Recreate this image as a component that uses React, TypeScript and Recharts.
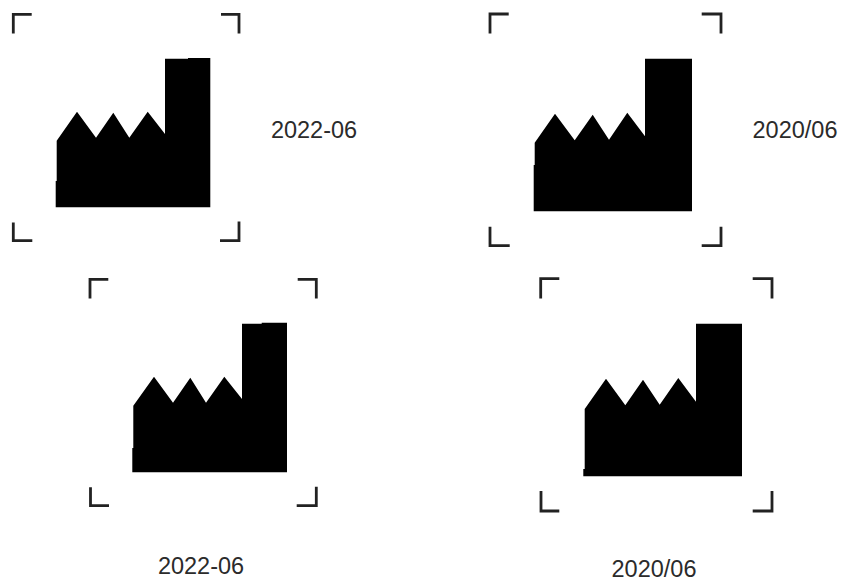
import { ComposedChart, Area, Line, Scatter, LabelList, XAxis, YAxis } from 'recharts';

type Pt = { x: number; y: number };

const CHART_W = 842;
const CHART_H = 581;

// factory outlines (y grows downwards)
const factoryA: Pt[] = [
  { x: 55.7, y: 181 }, { x: 56.7, y: 181 }, { x: 56.7, y: 140.7 }, { x: 77, y: 111.7 }, { x: 96, y: 137.7 },
  { x: 113.3, y: 112.7 }, { x: 129.3, y: 137.7 }, { x: 147.7, y: 111.7 }, { x: 165, y: 134 }, { x: 165, y: 58.7 },
  { x: 188, y: 58.7 }, { x: 188, y: 58 }, { x: 210.3, y: 58 },
];
const factoryB: Pt[] = [
  { x: 533.7, y: 165 }, { x: 534.7, y: 165 }, { x: 534.7, y: 142.7 }, { x: 555, y: 113.7 }, { x: 574.7, y: 140.3 },
  { x: 592.7, y: 114.7 }, { x: 609, y: 139.7 }, { x: 627.3, y: 112.7 }, { x: 645, y: 136.3 }, { x: 645, y: 58.7 },
  { x: 692, y: 58.7 },
];
const factoryC: Pt[] = [
  { x: 132.3, y: 448 }, { x: 133.3, y: 448 }, { x: 133.3, y: 405.7 }, { x: 154, y: 376.7 }, { x: 173, y: 402.7 },
  { x: 190.3, y: 377.7 }, { x: 206, y: 402.7 }, { x: 224.3, y: 376.7 }, { x: 242, y: 399 }, { x: 242, y: 323.7 },
  { x: 261.7, y: 323.7 }, { x: 261.7, y: 322.7 }, { x: 287, y: 322.7 },
];
const factoryD: Pt[] = [
  { x: 583.3, y: 469 }, { x: 584.7, y: 469 }, { x: 584.7, y: 409 }, { x: 606, y: 378.7 }, { x: 625.3, y: 405.3 },
  { x: 643, y: 379.7 }, { x: 659.7, y: 404.7 }, { x: 678.3, y: 378 }, { x: 696, y: 401.7 }, { x: 696, y: 323.7 },
  { x: 742, y: 323.7 },
];
const factories = [
  { name: 'a', points: factoryA, base: 207.3 },
  { name: 'b', points: factoryB, base: 211.3 },
  { name: 'c', points: factoryC, base: 472.3 },
  { name: 'd', points: factoryD, base: 476.3 },
];

// corner brackets
const bracketsA: Pt[][] = [
  [{ x: 13.3, y: 33.5 }, { x: 13.3, y: 14.3 }, { x: 31.7, y: 14.3 }],
  [{ x: 221, y: 14.3 }, { x: 239, y: 14.3 }, { x: 239, y: 33.5 }],
  [{ x: 13.3, y: 222.5 }, { x: 13.3, y: 240.7 }, { x: 32.3, y: 240.7 }],
  [{ x: 220, y: 240.7 }, { x: 239, y: 240.7 }, { x: 239, y: 221.5 }],
];
const bracketsB: Pt[][] = [
  [{ x: 490, y: 33.5 }, { x: 490, y: 14 }, { x: 508.7, y: 14 }],
  [{ x: 701.7, y: 14 }, { x: 721, y: 14 }, { x: 721, y: 33.5 }],
  [{ x: 490, y: 226.7 }, { x: 490, y: 245.7 }, { x: 509.7, y: 245.7 }],
  [{ x: 701.7, y: 245.7 }, { x: 721, y: 245.7 }, { x: 721, y: 226.7 }],
];
const bracketsC: Pt[][] = [
  [{ x: 90, y: 298.5 }, { x: 90, y: 279.3 }, { x: 108.3, y: 279.3 }],
  [{ x: 297.7, y: 279.3 }, { x: 316.3, y: 279.3 }, { x: 316.3, y: 298.5 }],
  [{ x: 90.5, y: 487.3 }, { x: 90.5, y: 505.7 }, { x: 109, y: 505.7 }],
  [{ x: 296.7, y: 505.7 }, { x: 316.3, y: 505.7 }, { x: 316.3, y: 486.7 }],
];
const bracketsD: Pt[][] = [
  [{ x: 540.7, y: 298.5 }, { x: 540.7, y: 278.7 }, { x: 559.3, y: 278.7 }],
  [{ x: 752.7, y: 278.7 }, { x: 772, y: 278.7 }, { x: 772, y: 298.5 }],
  [{ x: 541, y: 491 }, { x: 541, y: 511 }, { x: 559.3, y: 511 }],
  [{ x: 752.7, y: 511 }, { x: 772, y: 511 }, { x: 772, y: 491 }],
];
const brackets = [...bracketsA, ...bracketsB, ...bracketsC, ...bracketsD];

const dateLabels = [
  { x: 314, y: 130, text: '2022-06' },
  { x: 795, y: 130, text: '2020/06' },
  { x: 201, y: 566, text: '2022-06' },
  { x: 654, y: 569, text: '2020/06' },
];

export default function App() {
  return (
    <div style={{ position: 'absolute', left: 0, top: 0, width: CHART_W, height: CHART_H, background: '#fff' }}>
      <ComposedChart width={CHART_W} height={CHART_H} margin={{ top: 0, right: 0, bottom: 0, left: 0 }}>
        <XAxis type="number" dataKey="x" domain={[0, CHART_W]} hide />
        <YAxis type="number" dataKey="y" domain={[0, CHART_H]} reversed hide />
        {factories.map((f) => (
          <Area
            key={f.name}
            data={f.points}
            dataKey="y"
            type="linear"
            baseValue={f.base}
            fill="#000"
            fillOpacity={1}
            stroke="none"
            dot={false}
            activeDot={false}
            isAnimationActive={false}
          />
        ))}
        {brackets.map((b, i) => (
          <Line
            key={i}
            data={b}
            dataKey="y"
            type="linear"
            stroke="#222"
            strokeWidth={2.8}
            strokeLinecap="butt"
            strokeLinejoin="miter"
            dot={false}
            activeDot={false}
            isAnimationActive={false}
          />
        ))}
        <Scatter data={dateLabels} dataKey="y" shape={() => null} isAnimationActive={false}>
          <LabelList
            dataKey="text"
            position="center"
            fill="#2b2b2b"
            style={{ fontFamily: '"Liberation Sans", Arial, sans-serif', fontSize: 23.5 }}
          />
        </Scatter>
      </ComposedChart>
    </div>
  );
}
